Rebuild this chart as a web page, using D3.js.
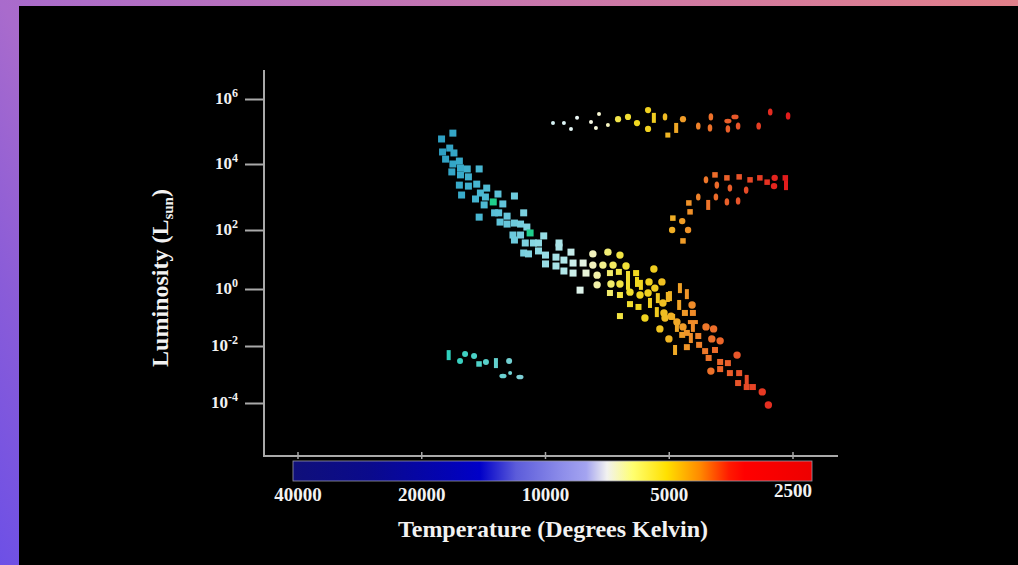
<!DOCTYPE html>
<html>
<head>
<meta charset="utf-8">
<script src="https://cdn.jsdelivr.net/npm/d3@7"></script>
<style>
  html, body { margin: 0; padding: 0; background: #000; overflow: hidden; }
  text { font-family: "Liberation Serif", "Times New Roman", serif; font-weight: bold; fill: #f2f2f2; }
</style>
</head>
<body>
<svg id="vis-svg" width="1018" height="565"></svg>
<script>
// H-R diagram. Each star is [temperature (K), log10 luminosity (Lsun), marker]
// markers: s square, c circle, v vertical bar, h horizontal bar,
//          e tall ellipse, o wide ellipse, d small dot
const tempTicks = [40000, 20000, 10000, 5000, 2500];
const lumTicks = [-4, -2, 0, 2, 4, 6];

const mainSeqHot = [
  [17900, 4.77, 's'], [16800, 4.95, 's'], [17800, 4.37, 's'], [17100, 4.49, 's'], [16700, 4.34, 's'],
  [17500, 4.15, 's'], [16800, 4.00, 's'], [16200, 4.09, 's'], [16900, 3.76, 's'], [16100, 3.88, 's'],
  [15500, 3.85, 's'], [14500, 3.85, 's'], [16100, 3.67, 's'], [15400, 3.61, 's'], [16200, 3.36, 's'],
  [15400, 3.33, 's'], [14700, 3.39, 's'], [13900, 3.27, 's'], [16000, 3.06, 's'], [14800, 2.94, 's'],
  [14400, 3.12, 's'], [14000, 3.00, 's'], [13050, 3.09, 's'], [14100, 2.76, 's'], [12700, 2.79, 's'],
  [11900, 3.03, 's'], [14500, 2.39, 's'], [13300, 2.52, 's'], [13000, 2.52, 's'], [12400, 2.42, 's'],
  [11300, 2.52, 's'], [12900, 2.24, 's'], [12400, 2.18, 's'], [11900, 2.21, 's'], [11500, 2.18, 's'],
  [11100, 2.09, 's'], [12000, 1.83, 's'], [11500, 1.83, 's'], [10100, 1.80, 's'], [11900, 1.66, 's'],
  [11200, 1.56, 's'], [10700, 1.56, 's'], [10400, 1.56, 's'], [9270, 1.56, 's'], [11300, 1.22, 's'],
  [11000, 1.19, 's'], [10400, 1.29, 's'], [10000, 1.15, 's'], [9270, 1.42, 's'], [9430, 1.08, 's'],
  [8670, 1.25, 's'], [10000, 0.85, 's'], [9430, 0.78, 's'], [9020, 0.98, 's'], [8570, 0.88, 's'],
  [9020, 0.61, 's'], [8570, 0.54, 's'], [8100, 0.88, 's'], [7970, 0.54, 's'], [8240, -0.04, 's']
];

// two odd greenish stars inside the upper main sequence
const mainSeqGreen = [[13400, 2.85, 's'], [10900, 1.90, 's']];

const mainSeqCool = [
  [7670, 1.19, 'c'], [7050, 1.25, 'c'], [6590, 1.15, 'c'], [7670, 0.81, 'c'], [7250, 0.81, 'c'],
  [6850, 0.81, 'c'], [6370, 0.78, 'c'], [7490, 0.47, 'c'], [7490, 0.14, 'c'], [6970, 0.54, 's'],
  [6630, 0.58, 's'], [6930, 0.17, 'c'], [6590, 0.17, 'c'], [6300, 0.44, 'v'], [6300, 0.14, 'v'],
  [6020, 0.54, 's'], [5990, 0.24, 'v'], [5860, 0.14, 'v'], [5450, 0.68, 'c'], [5600, 0.24, 'c'],
  [5420, 0.03, 'c'], [5210, 0.24, 'c'], [6970, -0.14, 's'], [6590, -0.21, 's'], [6230, -0.11, 'c'],
  [6230, -0.53, 's'], [5940, -0.63, 's'], [5890, -0.21, 'c'], [5630, -0.14, 'c'], [5570, -0.49, 'v'],
  [5330, -0.32, 'v'], [5180, -0.49, 'c'], [5040, -0.28, 'v'], [6590, -0.95, 's'], [5730, -1.02, 'c'],
  [5360, -0.81, 'v'], [5120, -1.02, 'c'], [4920, -0.98, 's'], [5270, -1.40, 'c'], [5010, -1.75, 'c'],
  [4840, -2.14, 'v'], [5150, -0.84, 'c'], [4980, -0.25, 'v'], [4950, -0.95, 'c'], [4790, -1.33, 'v'],
  [4730, -0.56, 'v'], [4580, -0.84, 's'], [4530, -0.18, 'v'], [4630, -1.33, 'c'], [4400, -0.56, 'c'],
  [4380, -0.84, 's'], [4650, -1.61, 's'], [4430, -1.72, 'v'], [4380, -1.16, 'h'], [4380, -1.33, 'v'],
  [4250, -1.65, 's'], [4230, -1.96, 's'], [4070, -1.33, 'c'], [3900, -1.40, 'c'], [4090, -2.18, 's'],
  [3940, -1.75, 'c'], [3760, -1.82, 'c'], [4010, -2.42, 's'], [3870, -2.14, 's'], [3960, -2.88, 'c'],
  [3760, -2.56, 's'], [3760, -2.81, 's'], [3600, -2.60, 's'], [3420, -2.32, 'c'], [3560, -2.95, 's'],
  [3380, -2.95, 's'], [3400, -3.30, 's'], [3240, -3.19, 'v'], [3240, -3.44, 's'], [3130, -3.44, 's'],
  [2970, -3.61, 'c'], [2870, -4.07, 'c'], [4710, 0.03, 'v'], [4790, -1.16, 'c'], [4530, -1.54, 's'],
  [4530, -2.04, 's']
];

const giantStars = [
  [4900, 2.36, 's'], [4650, 2.27, 'c'], [4920, 2.00, 'c'], [4500, 2.00, 'c'], [4630, 1.63, 's'],
  [4480, 2.82, 's'], [4450, 2.55, 's'], [4250, 3.00, 'e'], [4070, 3.52, 'e'], [3870, 3.67, 's'],
  [3830, 3.36, 'e'], [3850, 3.00, 'e'], [4020, 2.76, 'v'], [3620, 3.58, 's'], [3560, 3.27, 'e'],
  [3620, 2.85, 'e'], [3400, 2.88, 'e'], [3380, 3.61, 's'], [3250, 3.21, 'e'], [3180, 3.52, 's'],
  [3010, 3.58, 's'], [2890, 3.45, 's'], [2770, 3.58, 'c'], [2780, 3.33, 'c'], [2610, 3.58, 's'],
  [2600, 3.36, 'v']
];

const supergiantStars = [
  [9590, 5.26, 'd'], [9020, 5.26, 'd'], [8670, 5.08, 'd'], [8380, 5.42, 'd'], [7750, 5.29, 'd'],
  [7540, 5.11, 'd'], [7410, 5.54, 'd'], [7050, 5.20, 'd'], [6660, 5.38, 'c'], [6300, 5.45, 'c'],
  [5990, 5.26, 'c'], [5630, 5.66, 'c'], [5450, 5.42, 'v'], [5120, 5.45, 'e'], [5630, 5.08, 'c'],
  [5040, 4.89, 's'], [4810, 5.11, 'v'], [4630, 5.38, 'c'], [4250, 5.17, 'e'], [3980, 5.11, 'e'],
  [3960, 5.45, 'e'], [3600, 5.32, 'o'], [3460, 5.45, 'o'], [3400, 5.17, 'e'], [3600, 5.08, 'e'],
  [3030, 5.17, 'e'], [2840, 5.60, 'e'], [2570, 5.48, 'e']
];

const whiteDwarfStars = [
  [17200, -2.32, 'v'], [16140, -2.53, 'c'], [15690, -2.28, 'c'], [14920, -2.35, 'c'], [14510, -2.63, 's'],
  [13960, -2.56, 'c'], [13200, -2.60, 'v'], [12260, -2.53, 'c'], [12690, -3.05, 'o'], [12190, -2.95, 'd'],
  [11540, -3.09, 'o']
];

function hrDiagram() {
  const svg = d3.select('#vis-svg');
  const defs = svg.append('defs');

  // frame: purple-pink gradient showing on the top and left edges
  const frameGrad = defs.append('linearGradient').attr('id', 'frame-grad')
      .attr('gradientUnits', 'userSpaceOnUse')
      .attr('x1', 0).attr('y1', 565).attr('x2', 1018).attr('y2', 0);
  [[0, '#6d50e6'], [0.12, '#8a5cd8'], [0.235, '#a96bcc'], [0.62, '#c877ae'], [1, '#e2808a']]
    .forEach(s => frameGrad.append('stop').attr('offset', s[0]).attr('stop-color', s[1]));
  svg.append('rect').attr('width', 1018).attr('height', 565).attr('fill', 'url(#frame-grad)');
  svg.append('rect').attr('x', 19).attr('y', 6).attr('width', 999).attr('height', 559).attr('fill', '#000');

  // scales: temperature falls off by halves, luminosity ticks are hand spaced
  const x = d3.scaleLog().domain([40000, 2500]).range([298, 793]);
  const y = d3.scaleLinear().domain(lumTicks).range([403, 346, 289, 230, 164, 99]);

  const axisColor = '#a9a9a9';

  // y axis
  svg.append('line').attr('x1', 264).attr('x2', 264).attr('y1', 70).attr('y2', 457)
      .attr('stroke', axisColor).attr('stroke-width', 2);
  const yAxis = svg.append('g').attr('transform', 'translate(264,0)')
      .call(d3.axisLeft(y).tickValues(lumTicks).tickSize(19).tickSizeOuter(0).tickFormat(''));
  yAxis.select('.domain').remove();
  yAxis.selectAll('.tick line').attr('stroke', axisColor).attr('stroke-width', 2);

  lumTicks.forEach(p => {
    const t = svg.append('text')
        .attr('x', 238).attr('y', y(p) + 5)
        .attr('text-anchor', 'end')
        .style('font-size', '17px');
    t.append('tspan').text('10');
    t.append('tspan').attr('dy', -7).style('font-size', '12px').text(p);
  });

  // x axis
  svg.append('line').attr('x1', 263).attr('x2', 838).attr('y1', 456).attr('y2', 456)
      .attr('stroke', axisColor).attr('stroke-width', 2);
  svg.append('g').selectAll('line')
      .data(tempTicks)
      .enter().append('line')
      .attr('x1', d => x(d)).attr('x2', d => x(d))
      .attr('y1', 452).attr('y2', 459)
      .attr('stroke', axisColor).attr('stroke-width', 1.5);

  // temperature colour bar
  const barGrad = defs.append('linearGradient').attr('id', 'bar-grad');
  [[0, '#10107a'], [0.15, '#0a0a8c'], [0.3, '#0303b4'], [0.36, '#0000c8'], [0.43, '#5c5cda'],
   [0.52, '#8e8eea'], [0.565, '#a4a4f0'], [0.605, '#f2f2f0'], [0.655, '#ffff70'], [0.72, '#ffe000'],
   [0.785, '#ff8800'], [0.84, '#ff1a00'], [0.87, '#ff0000'], [1, '#ee0000']]
    .forEach(s => barGrad.append('stop').attr('offset', s[0]).attr('stop-color', s[1]));
  svg.append('rect')
      .attr('x', x(40000) - 5).attr('y', 461)
      .attr('width', x(2500) - x(40000) + 24).attr('height', 20)
      .attr('fill', 'url(#bar-grad)')
      .attr('stroke', '#9a9aa8').attr('stroke-width', 0.8);

  svg.append('g').selectAll('text')
      .data(tempTicks)
      .enter().append('text')
      .attr('x', d => x(d)).attr('y', (d, i) => i === 4 ? 497 : 501)
      .attr('text-anchor', 'middle')
      .style('font-size', '19px')
      .text(d => d);

  // axis titles
  svg.append('text')
      .attr('x', 553).attr('y', 537)
      .attr('text-anchor', 'middle')
      .style('font-size', '24px')
      .text('Temperature (Degrees Kelvin)');

  const yTitle = svg.append('text')
      .attr('transform', 'translate(168,278) rotate(-90)')
      .attr('text-anchor', 'middle')
      .style('font-size', '24px');
  yTitle.append('tspan').text('Luminosity (L');
  yTitle.append('tspan').attr('dy', 5).style('font-size', '15px').text('sun');
  yTitle.append('tspan').attr('dy', -5).text(')');

  // star colours follow temperature
  const starColor = d3.scaleLog()
      .domain([18000, 16000, 14000, 12000, 10500, 9000, 8200, 7700, 7100, 6600, 6000, 5400, 5000, 4600, 4200, 3800, 3400, 3000, 2700])
      .range(['#2e9fc2', '#39abca', '#4ebad3', '#6cc9dc', '#8cd8e2', '#b2e6e8', '#dff3ea', '#f2f2c0', '#f2ee7a',
              '#f2e444', '#f0d820', '#f0cc20', '#f0b424', '#f09a28', '#ef7e2a', '#ec682a', '#e8552a', '#e63c24', '#e21c1c'])
      .clamp(true);
  const dwarfColor = d3.scaleLog().domain([17000, 11500]).range(['#2fd0bd', '#7fd0d6']).clamp(true);

  const starsG = svg.append('g');

  function drawStars(stars, colorOf, size) {
    stars.forEach(d => {
      const cx = x(d[0]);
      const cy = y(d[1]);
      const fill = colorOf(d);
      const m = d[2];
      if (m === 's') {
        starsG.append('rect').attr('x', cx - size.sq / 2).attr('y', cy - size.sq / 2)
            .attr('width', size.sq).attr('height', size.sq).attr('fill', fill);
      } else if (m === 'c') {
        starsG.append('circle').attr('cx', cx).attr('cy', cy).attr('r', size.r).attr('fill', fill);
      } else if (m === 'd') {
        starsG.append('circle').attr('cx', cx).attr('cy', cy).attr('r', 2).attr('fill', fill);
      } else if (m === 'v') {
        starsG.append('rect').attr('x', cx - 2).attr('y', cy - 5)
            .attr('width', 4).attr('height', 10).attr('fill', fill);
      } else if (m === 'h') {
        starsG.append('rect').attr('x', cx - 5).attr('y', cy - 2)
            .attr('width', 10).attr('height', 4).attr('fill', fill);
      } else if (m === 'e') {
        starsG.append('ellipse').attr('cx', cx).attr('cy', cy).attr('rx', 2.3).attr('ry', 3.6).attr('fill', fill);
      } else if (m === 'o') {
        starsG.append('ellipse').attr('cx', cx).attr('cy', cy).attr('rx', 3.6).attr('ry', 2.3).attr('fill', fill);
      }
    });
  }

  drawStars(mainSeqHot, d => starColor(d[0]), { sq: 7, r: 3.6 });
  drawStars(mainSeqGreen, () => '#1fcf8c', { sq: 7, r: 3.6 });
  drawStars(mainSeqCool, d => starColor(d[0]), { sq: 6, r: 3.7 });
  drawStars(giantStars, d => starColor(d[0]), { sq: 5.5, r: 3.2 });
  drawStars(supergiantStars,
      d => d[2] === 'd' ? d3.interpolateRgb(starColor(d[0]), '#ffffff')(0.55) : starColor(d[0]),
      { sq: 5, r: 3.1 });
  drawStars(whiteDwarfStars, d => dwarfColor(d[0]), { sq: 5.5, r: 3 });
}

hrDiagram();
</script>
</body>
</html>
